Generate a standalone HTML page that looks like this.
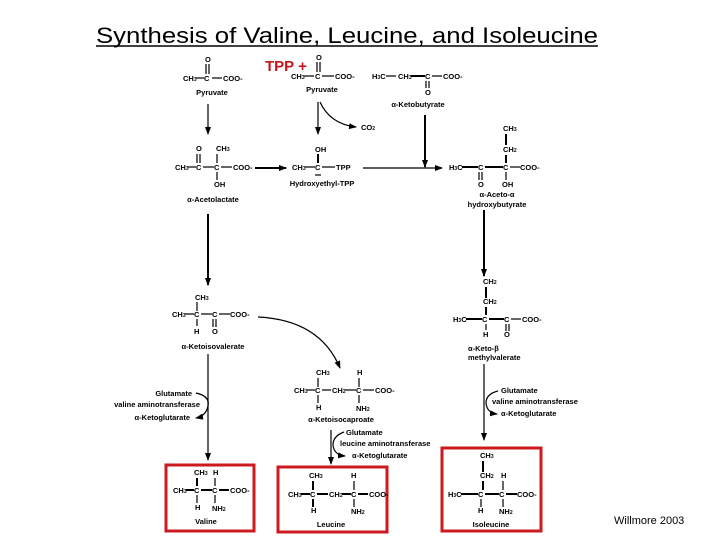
<!DOCTYPE html>
<html><head><meta charset="utf-8"><style>
body{margin:0;background:#fff}
svg{display:block}
text{font-family:"Liberation Sans",Arial,sans-serif;font-size:7.5px;font-weight:bold;fill:#000}
.c{text-anchor:middle}
line,path{stroke:#000;stroke-width:1.2;fill:none}
.b{stroke-width:2}
.box{fill:none;stroke:#cc1a1e;stroke-width:3}
</style></head><body>
<svg width="720" height="540" viewBox="0 0 720 540" xmlns="http://www.w3.org/2000/svg">
<defs><marker id="a" markerWidth="8" markerHeight="6" refX="7" refY="3" orient="auto" markerUnits="userSpaceOnUse"><path d="M0,0L8,3L0,6z" style="fill:#000;stroke:none"/></marker></defs>
<text x="96" y="43" textLength="502" lengthAdjust="spacingAndGlyphs" style="font-size:22px;font-weight:normal">Synthesis of Valine, Leucine, and Isoleucine</text>
<line x1="96" y1="46" x2="598" y2="46" style="stroke-width:1.5"/>
<text x="265" y="71" style="font-size:15px;fill:#c8141c;font-weight:bold">TPP +</text>

<!-- Pyruvate 1 -->
<text x="205" y="62">O</text><line x1="206" y1="64" x2="206" y2="74"/><line x1="209" y1="64" x2="209" y2="74"/>
<text x="183" y="81">CH<tspan style="font-size:5px">3</tspan></text><line x1="196" y1="78" x2="204" y2="78"/><text x="204" y="81">C</text><line x1="212" y1="78" x2="222" y2="78"/><text x="223" y="81">COO-</text>
<text x="212" y="95" class="c">Pyruvate</text>
<!-- Pyruvate 2 -->
<text x="316" y="60">O</text><line x1="317" y1="62" x2="317" y2="72"/><line x1="320" y1="62" x2="320" y2="72"/>
<text x="291" y="79">CH<tspan style="font-size:5px">3</tspan></text><line x1="304" y1="76" x2="314" y2="76"/><text x="315" y="79">C</text><line x1="322" y1="76" x2="334" y2="76"/><text x="335" y="79">COO-</text>
<text x="322" y="92" class="c">Pyruvate</text>
<!-- ketobutyrate -->
<text x="372" y="79">H<tspan style="font-size:5px">3</tspan>C</text><line x1="386" y1="76" x2="396" y2="76"/><text x="398" y="79">CH<tspan style="font-size:5px">3</tspan></text><line x1="411" y1="76" x2="425" y2="76" class="b"/><text x="425" y="79">C</text><line x1="432" y1="76" x2="442" y2="76"/><text x="443" y="79">COO-</text>
<line x1="426" y1="81" x2="426" y2="88"/><line x1="429" y1="81" x2="429" y2="88"/><text x="425" y="95">O</text>
<text x="418" y="107" class="c">α-Ketobutyrate</text>

<line x1="208" y1="104" x2="208" y2="134" marker-end="url(#a)"/>
<line x1="318" y1="102" x2="318" y2="134" marker-end="url(#a)"/>
<path d="M320,102 Q330,124 356,127" marker-end="url(#a)"/>
<text x="361" y="130">CO<tspan style="font-size:5px">2</tspan></text>
<line x1="425" y1="115" x2="425" y2="167" class="b" marker-end="url(#a)"/>
<line x1="363" y1="168" x2="442" y2="168" marker-end="url(#a)"/>

<!-- acetolactate -->
<text x="196" y="151">O</text><line x1="197" y1="154" x2="197" y2="163"/><line x1="200" y1="154" x2="200" y2="163"/>
<text x="216" y="151">CH<tspan style="font-size:5px">3</tspan></text><line x1="217" y1="154" x2="217" y2="163"/>
<text x="175" y="170">CH<tspan style="font-size:5px">3</tspan></text><line x1="188" y1="167" x2="196" y2="167"/><text x="196" y="170">C</text><line x1="203" y1="167" x2="214" y2="167"/><text x="214" y="170">C</text><line x1="221" y1="167" x2="232" y2="167"/><text x="233" y="170">COO-</text>
<line x1="217" y1="172" x2="217" y2="180"/><text x="214" y="187">OH</text>
<text x="213" y="202" class="c">α-Acetolactate</text>
<line x1="255" y1="168" x2="286" y2="168" class="b" marker-end="url(#a)"/>
<!-- hydroxyethyl TPP -->
<text x="315" y="152">OH</text><line x1="318" y1="154" x2="318" y2="163" class="b"/>
<text x="292" y="170">CH<tspan style="font-size:5px">3</tspan></text><line x1="305" y1="167" x2="315" y2="167"/><text x="315" y="170">C</text><line x1="322" y1="167" x2="335" y2="167"/><text x="336" y="170">TPP</text>
<line x1="315" y1="175" x2="321" y2="175"/>
<text x="322" y="186" class="c">Hydroxyethyl-TPP</text>
<!-- aceto hydroxybutyrate -->
<text x="503" y="131">CH<tspan style="font-size:5px">3</tspan></text><line x1="506" y1="134" x2="506" y2="145" class="b"/>
<text x="503" y="152">CH<tspan style="font-size:5px">2</tspan></text><line x1="506" y1="155" x2="506" y2="163" class="b"/>
<text x="449" y="170">H<tspan style="font-size:5px">3</tspan>C</text><line x1="462" y1="167" x2="478" y2="167" class="b"/><text x="478" y="170">C</text><line x1="485" y1="167" x2="503" y2="167" class="b"/><text x="503" y="170">C</text><line x1="510" y1="167" x2="520" y2="167"/><text x="520" y="170">COO-</text>
<line x1="479" y1="172" x2="479" y2="180"/><line x1="482" y1="172" x2="482" y2="180"/><text x="478" y="187">O</text>
<line x1="506" y1="172" x2="506" y2="180"/><text x="502" y="187">OH</text>
<text x="497" y="197" class="c">α-Aceto-α</text><text x="497" y="207" class="c">hydroxybutyrate</text>

<line x1="208" y1="214" x2="208" y2="285" class="b" marker-end="url(#a)"/>
<line x1="484" y1="210" x2="484" y2="276" class="b" marker-end="url(#a)"/>

<!-- ketoisovalerate -->
<text x="195" y="300">CH<tspan style="font-size:5px">3</tspan></text><line x1="197" y1="302" x2="197" y2="311"/>
<text x="172" y="317">CH<tspan style="font-size:5px">3</tspan></text><line x1="185" y1="314" x2="194" y2="314"/><text x="194" y="317">C</text><line x1="201" y1="314" x2="212" y2="314"/><text x="212" y="317">C</text><line x1="219" y1="314" x2="230" y2="314"/><text x="230" y="317">COO-</text>
<line x1="197" y1="319" x2="197" y2="326"/><text x="194" y="334">H</text>
<line x1="213" y1="319" x2="213" y2="327"/><line x1="216" y1="319" x2="216" y2="327"/><text x="212" y="334">O</text>
<text x="213" y="349" class="c">α-Ketoisovalerate</text>
<path d="M258,317 Q320,320 340,368" marker-end="url(#a)"/>
<line x1="208" y1="354" x2="208" y2="460" marker-end="url(#a)"/>
<text x="192" y="396" style="text-anchor:end">Glutamate</text>
<text x="200" y="407" style="text-anchor:end">valine aminotransferase</text>
<text x="190" y="420" style="text-anchor:end">α-Ketoglutarate</text>
<path d="M196,393 Q210,396 208,406 Q206,416 196,418" marker-end="url(#a)"/>

<!-- keto beta methylvalerate -->
<text x="483" y="284">CH<tspan style="font-size:5px">2</tspan></text><line x1="486" y1="287" x2="486" y2="298" class="b"/>
<text x="483" y="304">CH<tspan style="font-size:5px">2</tspan></text><line x1="486" y1="307" x2="486" y2="315" class="b"/>
<text x="453" y="322">H<tspan style="font-size:5px">3</tspan>C</text><line x1="466" y1="319" x2="482" y2="319" class="b"/><text x="482" y="322">C</text><line x1="489" y1="319" x2="504" y2="319" class="b"/><text x="504" y="322">C</text><line x1="511" y1="319" x2="521" y2="319"/><text x="522" y="322">COO-</text>
<line x1="486" y1="324" x2="486" y2="330"/><text x="483" y="337">H</text>
<line x1="506" y1="324" x2="506" y2="331"/><line x1="509" y1="324" x2="509" y2="331"/><text x="504" y="337">O</text>
<text x="468" y="351">α-Keto-β</text><text x="468" y="360">methylvalerate</text>
<line x1="484" y1="364" x2="484" y2="440" marker-end="url(#a)"/>
<text x="501" y="393">Glutamate</text>
<text x="492" y="404">valine aminotransferase</text>
<text x="501" y="416">α-Ketoglutarate</text>
<path d="M498,391 Q486,394 486,403 Q487,413 497,414" marker-end="url(#a)"/>

<!-- ketoisocaproate -->
<text x="316" y="375">CH<tspan style="font-size:5px">3</tspan></text><line x1="318" y1="378" x2="318" y2="387"/>
<text x="357" y="375">H</text><line x1="359" y1="378" x2="359" y2="387"/>
<text x="294" y="393">CH<tspan style="font-size:5px">3</tspan></text><line x1="307" y1="390" x2="315" y2="390"/><text x="315" y="393">C</text><line x1="322" y1="390" x2="331" y2="390"/><text x="332" y="393">CH<tspan style="font-size:5px">2</tspan></text><line x1="345" y1="390" x2="356" y2="390"/><text x="356" y="393">C</text><line x1="363" y1="390" x2="374" y2="390"/><text x="375" y="393">COO-</text>
<line x1="318" y1="395" x2="318" y2="403"/><text x="316" y="410">H</text>
<line x1="359" y1="395" x2="359" y2="403"/><text x="356" y="411">NH<tspan style="font-size:5px">2</tspan></text>
<text x="341" y="422" class="c">α-Ketoisocaproate</text>
<line x1="331" y1="430" x2="331" y2="464" marker-end="url(#a)"/>
<text x="346" y="435">Glutamate</text>
<text x="340" y="446">leucine aminotransferase</text>
<text x="352" y="458">α-Ketoglutarate</text>
<path d="M344,432 Q333,436 333,445 Q334,455 345,456" marker-end="url(#a)"/>

<!-- boxes -->
<rect x="166" y="465" width="88" height="66" class="box"/>
<rect x="278" y="467" width="109" height="65" class="box"/>
<rect x="442" y="448" width="99" height="83" class="box"/>

<!-- Valine -->
<text x="194" y="475">CH<tspan style="font-size:5px">3</tspan></text><text x="213" y="475">H</text>
<line x1="197" y1="478" x2="197" y2="486" class="b"/><line x1="215" y1="478" x2="215" y2="486"/>
<text x="173" y="493">CH<tspan style="font-size:5px">3</tspan></text><line x1="186" y1="490" x2="194" y2="490" class="b"/><text x="194" y="493">C</text><line x1="201" y1="490" x2="212" y2="490" class="b"/><text x="212" y="493">C</text><line x1="219" y1="490" x2="229" y2="490" class="b"/><text x="230" y="493">COO-</text>
<line x1="197" y1="495" x2="197" y2="503"/><text x="195" y="510">H</text>
<line x1="215" y1="495" x2="215" y2="503"/><text x="212" y="511">NH<tspan style="font-size:5px">2</tspan></text>
<text x="206" y="524" class="c">Valine</text>
<!-- Leucine -->
<text x="309" y="478">CH<tspan style="font-size:5px">3</tspan></text><text x="351" y="478">H</text>
<line x1="313" y1="481" x2="313" y2="490" class="b"/><line x1="354" y1="481" x2="354" y2="490"/>
<text x="288" y="497">CH<tspan style="font-size:5px">3</tspan></text><line x1="301" y1="494" x2="310" y2="494" class="b"/><text x="310" y="497">C</text><line x1="317" y1="494" x2="328" y2="494" class="b"/><text x="329" y="497">CH<tspan style="font-size:5px">2</tspan></text><line x1="342" y1="494" x2="351" y2="494" class="b"/><text x="351" y="497">C</text><line x1="358" y1="494" x2="368" y2="494" class="b"/><text x="369" y="497">COO-</text>
<line x1="313" y1="499" x2="313" y2="507" class="b"/><text x="311" y="513">H</text>
<line x1="354" y1="499" x2="354" y2="507"/><text x="351" y="514">NH<tspan style="font-size:5px">2</tspan></text>
<text x="331" y="527" class="c">Leucine</text>
<!-- Isoleucine -->
<text x="480" y="458">CH<tspan style="font-size:5px">3</tspan></text><line x1="483" y1="461" x2="483" y2="472" class="b"/>
<text x="480" y="478">CH<tspan style="font-size:5px">2</tspan></text><text x="501" y="478">H</text>
<line x1="483" y1="481" x2="483" y2="490" class="b"/><line x1="503" y1="481" x2="503" y2="490"/>
<text x="448" y="497">H<tspan style="font-size:5px">3</tspan>C</text><line x1="461" y1="494" x2="478" y2="494" class="b"/><text x="478" y="497">C</text><line x1="485" y1="494" x2="499" y2="494" class="b"/><text x="499" y="497">C</text><line x1="506" y1="494" x2="517" y2="494" class="b"/><text x="517" y="497">COO-</text>
<line x1="481" y1="499" x2="481" y2="507"/><text x="478" y="513">H</text>
<line x1="503" y1="499" x2="503" y2="507"/><text x="499" y="514">NH<tspan style="font-size:5px">2</tspan></text>
<text x="491" y="527" class="c">Isoleucine</text>

<text x="614" y="524" style="font-size:11px;font-weight:normal">Willmore 2003</text>
</svg>
</body></html>
